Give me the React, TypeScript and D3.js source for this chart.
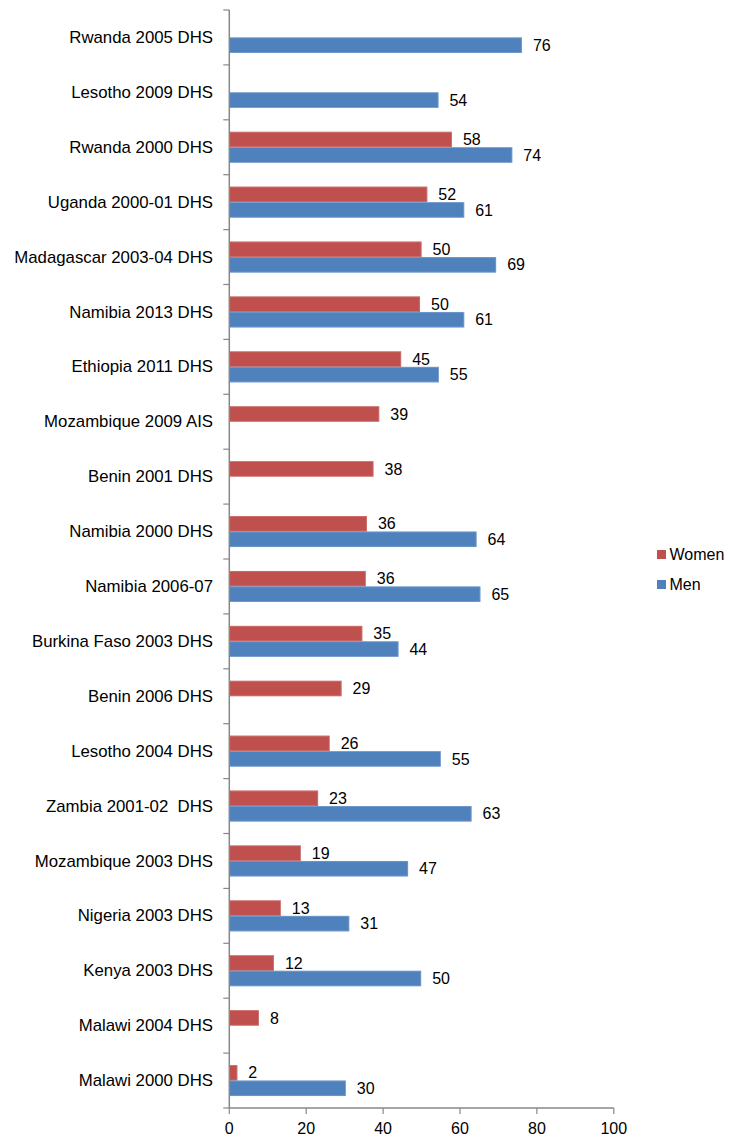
import React from "react";
import * as d3 from "d3";

const categories = [
  "Rwanda 2005 DHS",
  "Lesotho 2009 DHS",
  "Rwanda 2000 DHS",
  "Uganda 2000-01 DHS",
  "Madagascar 2003-04 DHS",
  "Namibia 2013 DHS",
  "Ethiopia 2011 DHS",
  "Mozambique 2009 AIS",
  "Benin 2001 DHS",
  "Namibia 2000 DHS",
  "Namibia 2006-07",
  "Burkina Faso 2003 DHS",
  "Benin 2006 DHS",
  "Lesotho 2004 DHS",
  "Zambia 2001-02  DHS",
  "Mozambique 2003 DHS",
  "Nigeria 2003 DHS",
  "Kenya 2003 DHS",
  "Malawi 2004 DHS",
  "Malawi 2000 DHS",
];

// bar lengths
const women: (number | null)[] = [null, null, 57.9, 51.5, 50.0, 49.6, 44.7, 39.0, 37.5, 35.8, 35.5, 34.6, 29.2, 26.1, 23.1, 18.6, 13.4, 11.6, 7.7, 2.1];
const men: (number | null)[] = [76.1, 54.4, 73.6, 61.1, 69.4, 61.1, 54.5, null, null, 64.3, 65.3, 44.0, null, 55.0, 63.0, 46.5, 31.2, 49.9, null, 30.3];

// printed data labels
const womenLabels: (string | null)[] = [null, null, "58", "52", "50", "50", "45", "39", "38", "36", "36", "35", "29", "26", "23", "19", "13", "12", "8", "2"];
const menLabels: (string | null)[] = ["76", "54", "74", "61", "69", "61", "55", null, null, "64", "65", "44", null, "55", "63", "47", "31", "50", null, "30"];

const xTicks = [0, 20, 40, 60, 80, 100];
const seriesNames = ["Women", "Men"];
const seriesColors = ["#C0504D", "#4F81BD"];
const seriesEdge = ["#D9908E", "#8FB0D8"];

const W = 730;
const H = 1138;
const FONT = "'Liberation Sans', Arial, sans-serif";

export default function App() {
  const x = d3.scaleLinear().domain([0, 100]).range([229.3, 613.8]);
  const y = d3.scaleBand<string>().domain(categories).range([10, 1108]).padding(0);
  const barH = 15.5;
  const axisColor = "#888888";
  const series = [women, men];
  const labels = [womenLabels, menLabels];

  return (
    <svg width={W} height={H} style={{ position: "absolute", left: 0, top: 0, background: "#fff" }} fontFamily={FONT}>
      {series.map((vals, si) =>
        vals.map((v, i) => {
          if (v == null) return null;
          const c = y(categories[i])! + y.bandwidth() / 2;
          const top = c - barH + si * barH;
          return (
            <g key={`${si}-${i}`}>
              <rect x={x(0)} y={top} width={x(v) - x(0)} height={barH} fill={seriesColors[si]} />
              <rect x={x(0) + 0.5} y={top + 0.5} width={Math.max(0, x(v) - x(0) - 1)} height={barH - 1} fill="none" stroke={seriesEdge[si]} strokeWidth={0.6} strokeOpacity={0.7} />
              <text x={x(v) + 11} y={top + barH / 2} dy="0.35em" fontSize={16} fill="#000">
                {labels[si][i]}
              </text>
            </g>
          );
        })
      )}
      <line x1={x(0)} x2={x(0)} y1={10} y2={1108} stroke={axisColor} strokeWidth={1.5} />
      {d3.range(categories.length + 1).map((i) => {
        const yy = 10 + i * y.step();
        return <line key={i} x1={x(0) - 6} x2={x(0)} y1={yy} y2={yy} stroke={axisColor} strokeWidth={1.2} />;
      })}
      {categories.map((c) => (
        <text
          key={c}
          transform={`translate(213, ${y(c)! + y.bandwidth() / 2}) scale(1.05, 1)`}
          dy="0.35em"
          textAnchor="end"
          fontSize={16}
          fill="#000"
          style={{ whiteSpace: "pre" }}
        >
          {c}
        </text>
      ))}
      <line x1={x(0)} x2={x(100)} y1={1108} y2={1108} stroke={axisColor} strokeWidth={1.5} />
      {xTicks.map((t) => (
        <g key={t}>
          <line x1={x(t)} x2={x(t)} y1={1108} y2={1114} stroke={axisColor} strokeWidth={1.2} />
          <text x={x(t)} y={1134} textAnchor="middle" fontSize={16} fill="#000">
            {t}
          </text>
        </g>
      ))}
      {seriesNames.map((n, i) => (
        <g key={n} transform={`translate(657, ${550 + i * 30})`}>
          <rect x={0} y={0} width={9} height={9} fill={seriesColors[i]} />
          <text x={12.5} y={4.5} dy="0.35em" fontSize={16} fill="#000">
            {n}
          </text>
        </g>
      ))}
    </svg>
  );
}
